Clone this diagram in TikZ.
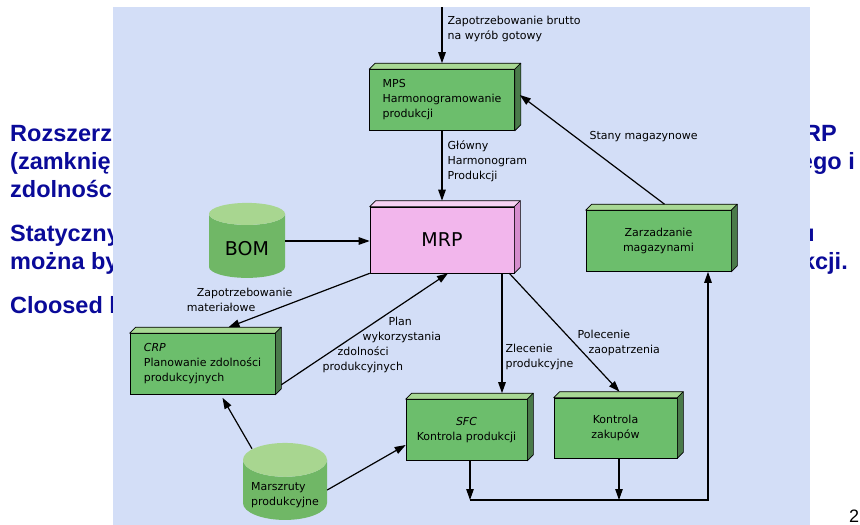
\documentclass[tikz,border=0pt]{standalone}
\usepackage{fontspec}
\setmainfont{DejaVu Sans}
\newfontfamily\slidefont{Liberation Sans}
\usetikzlibrary{positioning, arrows.meta, shapes.geometric, calc}
\definecolor{panelblue}{HTML}{D3DEF7}
\definecolor{slideblue}{HTML}{0A0A99}
\definecolor{unitfront}{HTML}{6CBE6C}
\definecolor{unittop}{HTML}{A8D894}
\definecolor{unitside}{HTML}{4A7A4A}
\definecolor{mrpfront}{HTML}{F2B6EC}
\definecolor{mrptop}{HTML}{F8D2F4}
\definecolor{mrpside}{HTML}{D58CCD}
\definecolor{cylbody}{HTML}{70B766}
\definecolor{cyltop}{HTML}{A8D690}
\tikzset{
  slidetxt/.style={font=\slidefont\bfseries\fontsize{23.5}{28}\selectfont, text=slideblue, anchor=base west, inner sep=0pt},
  unit/.style={draw, line width=0.6pt, fill=unitfront, minimum width=145pt, minimum height=61pt, align=center, inner sep=2pt, font=\fontsize{11}{15}\selectfont},
  cyl/.style={cylinder, shape border rotate=90, aspect=0.5, cylinder uses custom fill, cylinder body fill=cylbody, cylinder end fill=cyltop, inner sep=0pt},
  arr/.style={-{Triangle[length=11pt,width=7.5pt]}, line width=1.2pt},
  lbl/.style={font=\fontsize{11}{15}\selectfont, align=left, inner sep=0pt}
}
\begin{document}
\begin{tikzpicture}[x=1pt, y=-1pt]
\useasboundingbox (0,0) rectangle (860,525);
% slide text behind the diagram panel
\node[slidetxt] (rozsz) at (10,141) {Rozszerz};
\node[slidetxt] (zamkn) at (10,169) {(zamknię};
\node[slidetxt] (zdoln) at (10,197) {zdolnośc};
\node[slidetxt] (statyc) at (10,241) {Statyczny};
\node[slidetxt] (mozna) at (10,269) {można by};
\node[slidetxt] (cloos) at (10,313) {Cloosed l};
\node[slidetxt, anchor=base east] (rpend) at (837,141) {RP};
\node[slidetxt, anchor=base east] (egoend) at (855,169) {ego i};
\node[slidetxt, anchor=base east] (uend) at (815,241) {u};
\node[slidetxt, anchor=base east] (kcjiend) at (848,269) {kcji.};
\node[font=\slidefont\fontsize{18}{18}\selectfont, anchor=base, inner sep=0pt] (pgnum) at (854,522) {2};
\fill[panelblue] (113,7) rectangle (810,525);

% units
\node[unit, align=left] (mps) at (442,100) {MPS\\Harmonogramowanie\\produkcji};
\node[unit, fill=mrpfront, minimum width=144pt, minimum height=66pt, font=\fontsize{19}{22}\selectfont] (mrp) at (442,240) {MRP};
\node[unit] (mag) at (658.5,241) {Zarzadzanie\\magazynami};
\node[unit, align=left] (crp) at (202.5,364) {\textit{CRP}\\Planowanie zdolności\\produkcyjnych};
\node[unit, minimum width=121pt] (sfc) at (466.5,430) {\textit{SFC}\\Kontrola produkcji};
\node[unit, minimum width=123pt, minimum height=60pt] (zak) at (615.5,428) {Kontrola\\zakupów};
\foreach \n/\tc/\sc in {mps/unittop/unitside, mrp/mrptop/mrpside, mag/unittop/unitside, crp/unittop/unitside, sfc/unittop/unitside, zak/unittop/unitside} {
  \filldraw[fill=\tc, line width=0.6pt, line join=round] (\n.north west) -- ++(6,-6) -- ($(\n.north east)+(6,-6)$) -- (\n.north east) -- cycle;
  \filldraw[fill=\sc, line width=0.6pt, line join=round] (\n.north east) -- ++(6,-6) -- ($(\n.south east)+(6,-6)$) -- (\n.south east) -- cycle;
}

% stores
\node[cyl, minimum width=76pt, minimum height=75pt, font=\fontsize{19}{22}\selectfont, label={[font=\fontsize{19}{22}\selectfont, yshift=-3pt]center:BOM}] (bom) at (247,246) {\phantom{BOM}};
\node[cyl, minimum width=84pt, minimum height=77pt, font=\fontsize{11}{15}\selectfont, label={[lbl, yshift=-5pt]center:Marszruty\\produkcyjne}] (mar) at (285,490) {\phantom{produkcyjne}};

% flows
\coordinate (in) at (442,7);
\draw[arr] (in) -- ([yshift=6pt]mps.north) node[lbl, pos=0.39, anchor=west, xshift=5pt] {Zapotrzebowanie brutto\\na wyrób gotowy};
\draw[arr] (mps.south) -- ([yshift=6pt]mrp.north) node[lbl, pos=0.44, anchor=west, xshift=5pt] {Główny\\Harmonogram\\Produkcji};
\draw[arr] ([yshift=5pt]bom.east) -- ([yshift=5pt]bom.east -| mrp.west);
\draw[arr] ([xshift=6pt,yshift=6pt]mag.north) -- ([xshift=5pt,yshift=5pt]mps.east) node[lbl, pos=0.615, anchor=west, xshift=13.5pt] {Stany magazynowe};
\draw[arr] (mrp.south west) -- ([xshift=26pt,yshift=6pt]crp.north) node[lbl, pos=0.5, anchor=east, xshift=-6pt] {\hspace*{10pt}Zapotrzebowanie\\materiałowe};
\draw[arr] ([xshift=6pt,yshift=10pt]crp.south east) -- ([xshift=6pt]mrp.south) node[lbl, pos=0.375, xshift=38pt, yshift=-2pt] {\hspace*{66pt}Plan\\\hspace*{40pt}wykorzystania\\\hspace*{15pt}zdolności\\produkcyjnych};
\coordinate (zl) at ([xshift=35.5pt]sfc.north);
\draw[arr] (zl |- mrp.south) -- ([yshift=6pt]zl) node[lbl, pos=0.7, anchor=west, xshift=3pt] {Zlecenie\\produkcyjne};
\draw[arr] ([xshift=-5pt]mrp.south east) -- ([xshift=4pt,yshift=6pt]zak.north) node[lbl, pos=0.57, anchor=west, xshift=5pt, yshift=-2pt] {Polecenie\\\hspace*{11pt}zaopatrzenia};
\draw[arr] ([xshift=-33pt,yshift=-6pt]mar.north) -- ([xshift=20pt,yshift=-3pt]crp.south);
\draw[arr] (mar.east) -- ([yshift=-15pt]sfc.west);

% feedback to stock control
\coordinate (busl) at (470,500);
\coordinate (busm) at (619,500);
\coordinate (busr) at (708,500);
\draw[arr] (sfc.south -| busl) -- (busl);
\draw[arr] (zak.south -| busm) -- (busm);
\draw[arr] (busl) -- (busr) -- (busr |- mag.south);
\end{tikzpicture}
\end{document}
